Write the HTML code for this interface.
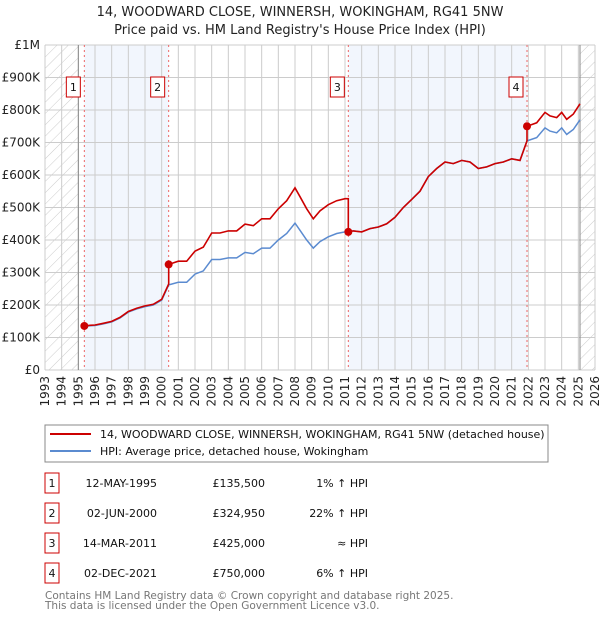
<!DOCTYPE html>
<html><head><meta charset="utf-8"><style>
body{margin:0;background:#fff;width:600px;height:620px;overflow:hidden;font-family:"DejaVu Sans","Liberation Sans",sans-serif}
svg text{font-family:"DejaVu Sans","Liberation Sans",sans-serif}
</style></head><body>
<svg id="c" width="600" height="620" xmlns="http://www.w3.org/2000/svg">
<defs><pattern id="hatch" width="8" height="8" patternUnits="userSpaceOnUse" patternTransform="rotate(45)"><line x1="0" y1="0" x2="0" y2="8" stroke="#ccc" stroke-width="1"/></pattern></defs>
<text x="300" y="16" text-anchor="middle" font-size="13" fill="#222">14, WOODWARD CLOSE, WINNERSH, WOKINGHAM, RG41 5NW</text>
<text x="300" y="34" text-anchor="middle" font-size="13" fill="#222">Price paid vs. HM Land Registry's House Price Index (HPI)</text>
<g id="grid"></g><g id="marks"></g>
<rect x="45" y="425" width="503" height="37" fill="#fff" stroke="#888"/>
<line x1="50" y1="434" x2="91" y2="434" stroke="#cc0000" stroke-width="2"/>
<text x="100" y="438" font-size="11" fill="#111">14, WOODWARD CLOSE, WINNERSH, WOKINGHAM, RG41 5NW (detached house)</text>
<line x1="50" y1="451" x2="91" y2="451" stroke="#5b8bd0" stroke-width="2"/>
<text x="100" y="455" font-size="11" fill="#111">HPI: Average price, detached house, Wokingham</text>
<g id="table"></g>
<text x="45" y="599" font-size="10.5" fill="#777">Contains HM Land Registry data © Crown copyright and database right 2025.</text>
<text x="45" y="609" font-size="10.5" fill="#777">This data is licensed under the Open Government Licence v3.0.</text>
</svg>
<script>
const hpiYears=[1995.36,1995.7,1996,1996.5,1997,1997.5,1998,1998.5,1999,1999.5,2000,2000.42,2001,2001.5,2002,2002.5,2003,2003.5,2004,2004.5,2005,2005.5,2006,2006.5,2007,2007.5,2008,2008.3,2008.7,2009.1,2009.5,2010,2010.5,2011,2011.2,2011.5,2012,2012.5,2013,2013.5,2014,2014.5,2015,2015.5,2016,2016.5,2017,2017.5,2018,2018.5,2019,2019.5,2020,2020.5,2021,2021.5,2021.92,2022.5,2023,2023.3,2023.7,2024,2024.3,2024.7,2025.1];
const hpiValues=[134,136,137,142,148,160,178,188,195,200,215,262,270,270,295,305,340,340,345,345,362,358,375,375,400,420,452,430,400,375,395,410,420,425,425,428,425,435,440,450,470,500,525,550,595,620,640,635,645,640,620,625,635,640,650,645,705,715,745,735,730,745,725,740,770];
const saleYears=[1995.36,2000.42,2011.2,2021.92];
const salePrices=[135500,324950,425000,750000];
const saleLabels=["1","2","3","4"];
const saleDates=["12-MAY-1995","02-JUN-2000","14-MAR-2011","02-DEC-2021"];
const salePriceText=["£135,500","£324,950","£425,000","£750,000"];
const saleHpiText=["1% ↑ HPI","22% ↑ HPI","≈ HPI","6% ↑ HPI"];
const yTicks=[0,100,200,300,400,500,600,700,800,900,1000];
const yTickLabels=["£0","£100K","£200K","£300K","£400K","£500K","£600K","£700K","£800K","£900K","£1M"];
const NS="http://www.w3.org/2000/svg";
const X0=45,X1=595,Y0=370,Y1=45,YR0=1993,YR1=2026;
function xs(y){return X0+(y-YR0)/(YR1-YR0)*(X1-X0);}
function ys(v){return Y0-v/1000*(Y0-Y1);}
function mk(t,a,p){const e=document.createElementNS(NS,t);for(const k in a)e.setAttribute(k,a[k]);p.appendChild(e);return e;}
const g=document.getElementById('grid'),m=document.getElementById('marks'),tb=document.getElementById('table');
mk('rect',{x:X0,y:Y1,width:X1-X0,height:Y0-Y1,fill:'#fff'},g);
for(let i=0;i<saleYears.length;i+=2){const r=mk('rect',{x:xs(saleYears[i]),y:Y1,width:xs(saleYears[i+1])-xs(saleYears[i]),height:Y0-Y1,fill:'#f2f6fd'},g);

}
let h1=mk('rect',{x:X0,y:Y1,width:xs(1995)-X0,height:Y0-Y1,fill:'url(#hatch)'},g);


let h2=mk('rect',{x:xs(2025.1),y:Y1,width:X1-xs(2025.1),height:Y0-Y1,fill:'url(#hatch)'},g);


for(let yr=YR0;yr<=YR1;yr++){mk('line',{x1:xs(yr),x2:xs(yr),y1:Y1,y2:Y0,stroke:'#ccc'},g);
const t=mk('text',{x:0,y:0,'font-size':12,fill:'#222','text-anchor':'end',transform:`translate(${xs(yr)+4},${Y0+6}) rotate(-90)`},g);t.textContent=yr;

}
yTicks.forEach((v,i)=>{mk('line',{x1:X0,x2:X1,y1:ys(v),y2:ys(v),stroke:'#ccc'},g);
const t=mk('text',{x:X0-5,y:ys(v)+4,'font-size':12,fill:'#222','text-anchor':'end'},g);t.textContent=yTickLabels[i];

});
mk('line',{x1:xs(1995),x2:xs(1995),y1:Y1,y2:Y0,stroke:'#888'},g);
mk('line',{x1:xs(2025.1),x2:xs(2025.1),y1:Y1,y2:Y0,stroke:'#888'},g);
function hpiAt(y){for(let i=0;i<hpiYears.length-1;i++){if(y<=hpiYears[i+1]){const f=(y-hpiYears[i])/(hpiYears[i+1]-hpiYears[i]);return hpiValues[i]+f*(hpiValues[i+1]-hpiValues[i]);}}return hpiValues[hpiValues.length-1];}
saleYears.forEach((y,i)=>{mk('line',{x1:xs(y),x2:xs(y),y1:Y1,y2:Y0,stroke:'#e66','stroke-dasharray':'2,3'},g);
const bx=mk('rect',{x:xs(y)-18,y:77,width:14,height:20,fill:'#fff',stroke:'#cc0000'},m);


const t=mk('text',{x:xs(y)-11,y:91,'font-size':11,'text-anchor':'middle',fill:'#111'},m);t.textContent=saleLabels[i];});
let d='';hpiYears.forEach((y,i)=>{d+=(i?'L':'M')+xs(y).toFixed(1)+','+ys(hpiValues[i]).toFixed(1);});
const hp=mk('path',{d:d,fill:'none',stroke:'#5b8bd0','stroke-width':1.5},m);


let pd='';
hpiYears.forEach((y,i)=>{let k=-1;for(let j=0;j<saleYears.length;j++)if(y>=saleYears[j])k=j;if(k<0)return;
const f=salePrices[k]/1000/hpiAt(saleYears[k]);
if(saleYears.includes(y)&&k>0){const pk=salePrices[k-1]/1000/hpiAt(saleYears[k-1]);pd+='L'+xs(y).toFixed(1)+','+ys(hpiValues[i]*pk).toFixed(1);}
pd+=(pd?'L':'M')+xs(y).toFixed(1)+','+ys(hpiValues[i]*f).toFixed(1);});
const pp=mk('path',{d:pd,fill:'none',stroke:'#cc0000','stroke-width':1.6},m);


saleYears.forEach((y,i)=>{const c=mk('circle',{cx:xs(y),cy:ys(salePrices[i]/1000),r:4,fill:'#cc0000'},m);


const ry=483+i*30;
const b=mk('rect',{x:45,y:ry-10,width:14,height:20,fill:'#fff',stroke:'#cc0000'},tb);


const cells=[[52,'middle',saleLabels[i]],[157,'end',saleDates[i]],[265,'end',salePriceText[i]],[368,'end',saleHpiText[i]]];
cells.forEach(cc=>{const t=mk('text',{x:cc[0],y:ry+4,'font-size':11,fill:'#111','text-anchor':cc[1]},tb);t.textContent=cc[2];

});});
</script>
</body></html>
